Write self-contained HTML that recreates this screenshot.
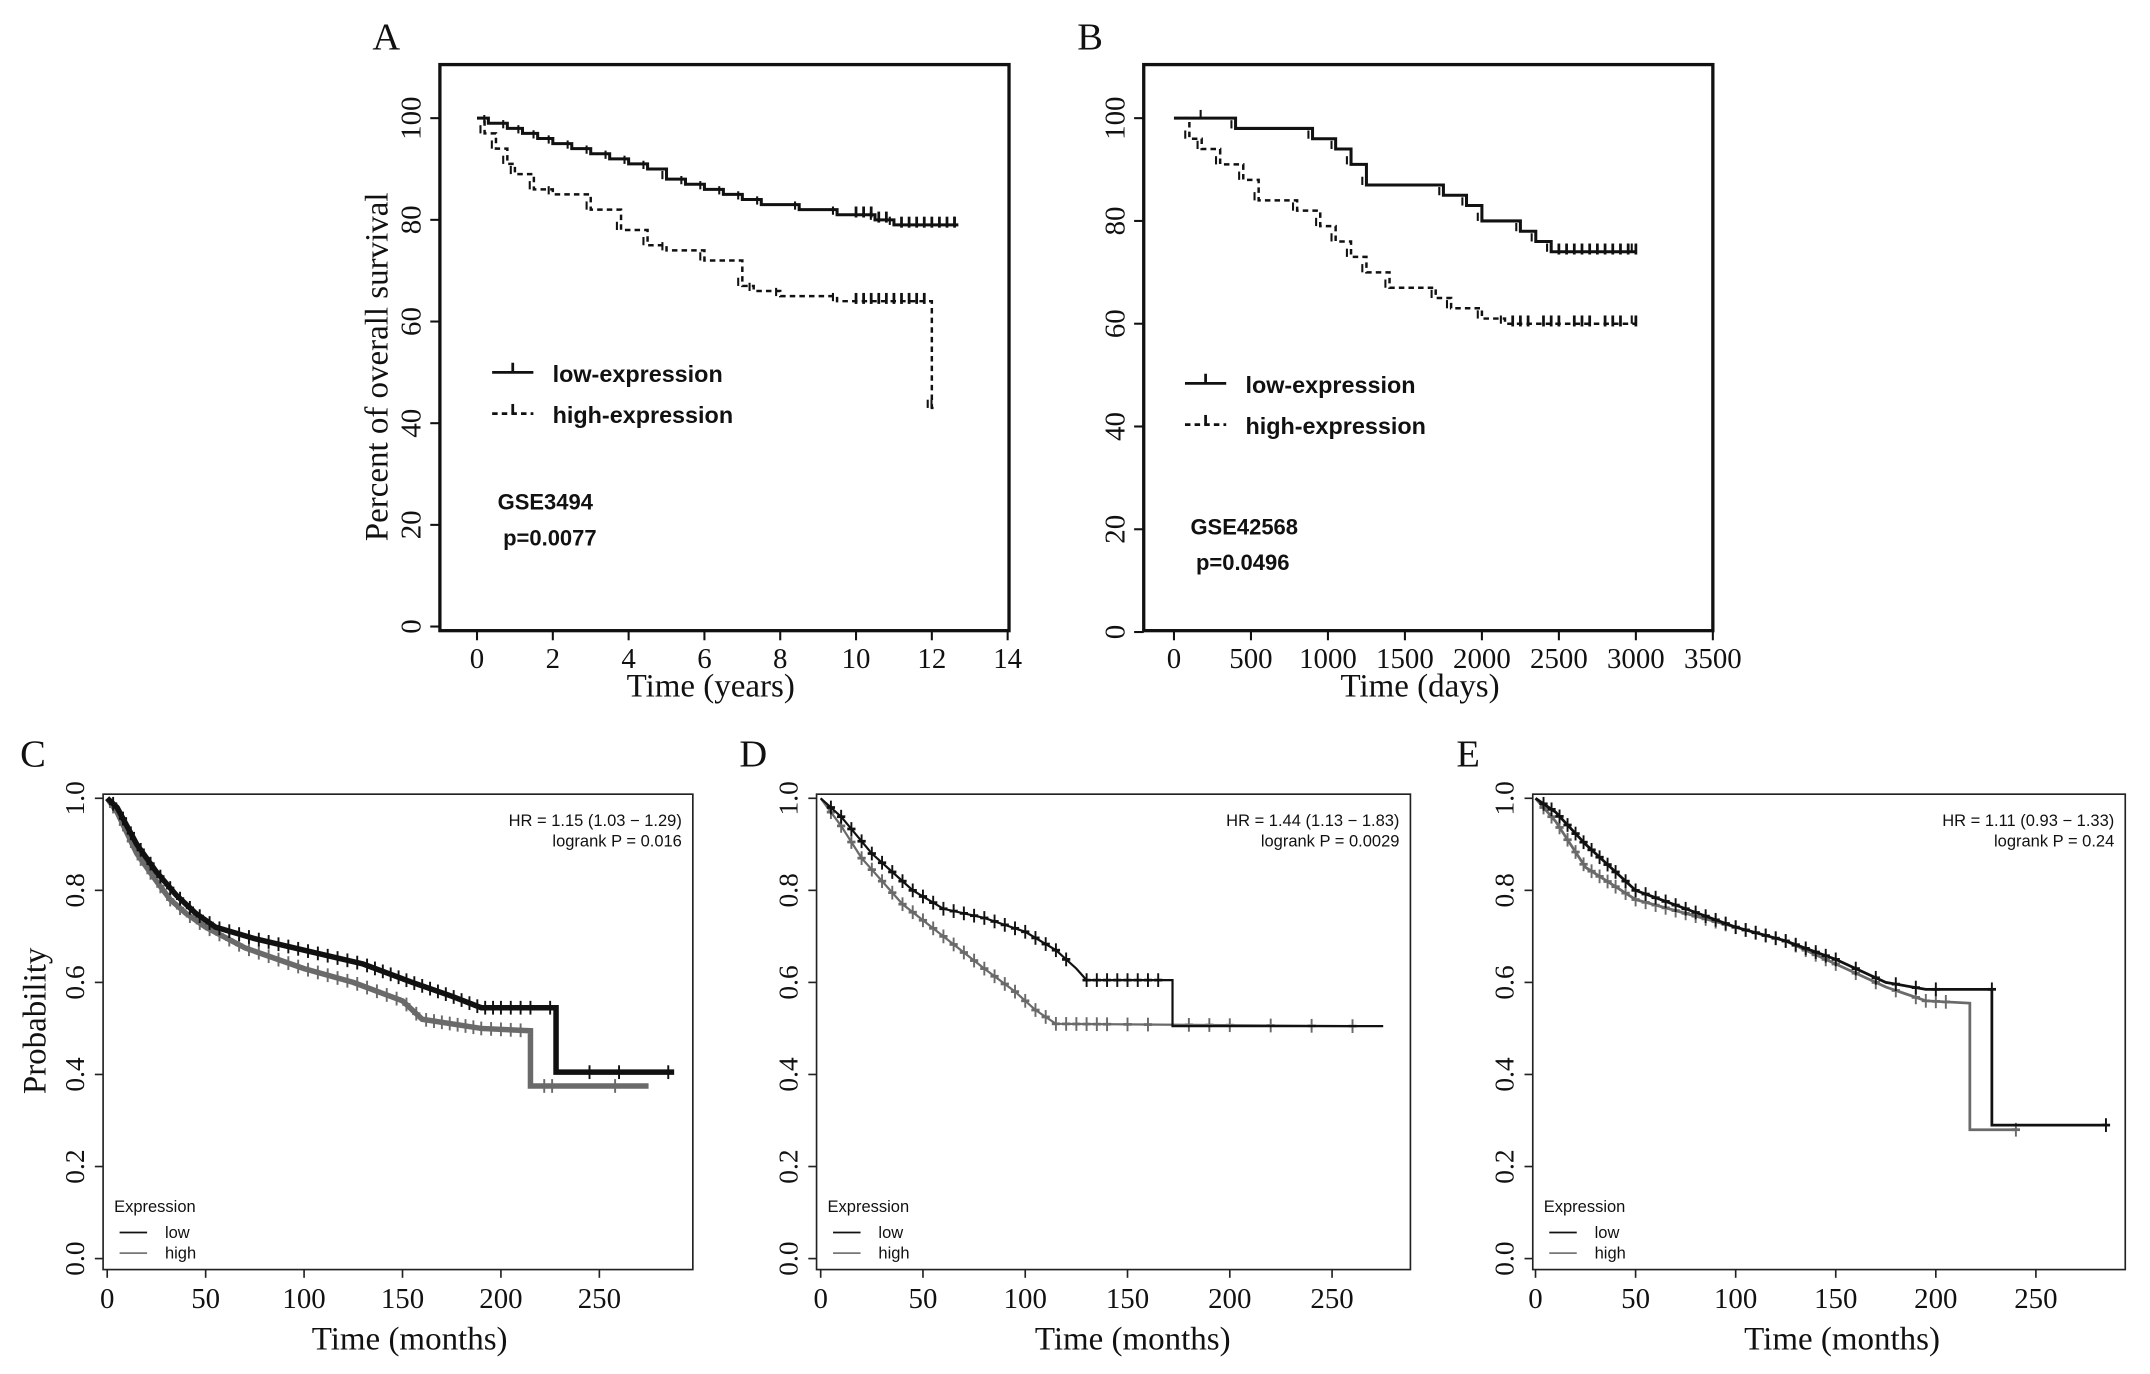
<!DOCTYPE html>
<html><head><meta charset="utf-8"><style>
html,body{margin:0;padding:0;background:#fff;}
svg{display:block;}
.serif{font-family:"Liberation Serif",serif;}
.sans{font-family:"Liberation Sans",sans-serif;}
</style></head><body>
<svg id="fig" width="2150" height="1374" viewBox="0 0 1564 1000" preserveAspectRatio="none" xmlns="http://www.w3.org/2000/svg"></svg>
<script>
// ---- Panel A data (years, percent) ----
const aLowT = [0,0.3,0.8,1.2,1.6,2,2.5,3,3.5,4,4.5,5,5.5,6,6.5,7,7.5,8.5,9.5,10.5,11,12.7];
const aLowS = [100,99,98,97,96,95,94,93,92,91,90,88,87,86,85,84,83,82,81,80,79,79];
const aHighT = [0,0.2,0.5,0.8,1,1.5,2,3,3.8,4.5,5,6,7,7.3,8,9.5,12,12.1];
const aHighS = [100,97,94,91,89,86,85,82,78,75,74,72,67,66,65,64,43,43];
const aXTicks = [0,2,4,6,8,10,12,14];
const aYTicks = [0,20,40,60,80,100];
// ---- Panel B data (days, percent) ----
const bLowT = [0,200,400,900,1050,1150,1250,1750,1900,2000,2250,2350,2450,3000];
const bLowS = [100,100,98,96,94,91,87,85,83,80,78,76,74,74];
const bHighT = [0,100,180,300,450,550,800,950,1050,1150,1250,1400,1700,1800,2000,2150,3000];
const bHighS = [100,96,94,91,88,84,82,79,76,73,70,67,65,63,61,60,60];
const bXTicks = [0,500,1000,1500,2000,2500,3000,3500];
const bYTicks = [0,20,40,60,80,100];
// ---- Panels C-E data (months, probability) ----
const kmXTicks = [0,50,100,150,200,250];
const kmYTicks = ["0.0","0.2","0.4","0.6","0.8","1.0"];
const cLowT = [0,5,15,25,35,45,55,75,100,130,155,175,190,228,228,288];
const cLowS = [1,0.98,0.9,0.84,0.79,0.75,0.72,0.695,0.67,0.64,0.6,0.57,0.545,0.545,0.405,0.405];
const cHighT = [0,5,15,25,32,40,50,70,100,125,150,160,190,215,215,275];
const cHighS = [1,0.97,0.88,0.82,0.78,0.75,0.72,0.675,0.63,0.6,0.56,0.52,0.5,0.495,0.375,0.375];
const cLowCens = [3,8,12,17,22,27,32,37,42,47,52,57,62,67,72,77,82,87,92,97,102,107,112,117,122,127,132,136,140,144,148,152,156,160,164,168,172,176,180,184,188,192,196,200,205,210,215,225,245,260,285];
const cHighCens = [3,8,12,17,22,27,32,37,42,47,52,57,62,67,72,77,82,87,92,97,102,107,112,117,122,127,132,137,142,147,152,157,162,166,170,174,178,182,186,190,195,200,205,210,222,226,258];
const dLowT = [0,10,25,45,60,80,100,115,125,130,172,172,275];
const dLowS = [1,0.96,0.88,0.8,0.76,0.74,0.71,0.67,0.63,0.605,0.605,0.505,0.505];
const dHighT = [0,10,20,40,60,80,95,105,115,260];
const dHighS = [1,0.94,0.87,0.77,0.7,0.63,0.58,0.54,0.51,0.505];
const dLowCens = [5,10,15,20,25,30,35,40,45,50,55,60,65,70,75,80,85,90,95,100,105,110,115,120,130,135,140,145,150,155,160,165];
const dHighCens = [5,10,15,20,25,30,35,40,45,50,55,60,65,70,75,80,85,90,95,100,105,110,115,120,125,130,135,140,150,160,180,190,200,220,240,260];
const eLowT = [0,10,25,50,75,100,125,150,175,195,228,228,285];
const eLowS = [1,0.97,0.9,0.8,0.76,0.72,0.69,0.65,0.6,0.585,0.585,0.29,0.29];
const eHighT = [0,10,25,50,75,100,125,150,175,195,217,217,240];
const eHighS = [1,0.95,0.85,0.78,0.75,0.72,0.69,0.64,0.59,0.56,0.555,0.28,0.28];
const eLowCens = [4,8,12,16,20,24,28,32,36,40,45,50,55,60,65,70,75,80,85,90,95,100,105,110,115,120,125,130,135,140,145,150,160,170,180,190,200,228,285];
const eHighCens = [4,8,12,16,20,24,28,32,36,40,45,50,55,60,65,70,75,80,85,90,95,100,105,110,115,120,125,130,135,140,145,150,160,170,180,190,195,200,205,240];

const NS="http://www.w3.org/2000/svg";
const svg=document.getElementById('fig');
function mk(tag,attrs,parent){const e=document.createElementNS(NS,tag);for(const k in attrs)e.setAttribute(k,attrs[k]);(parent||svg).appendChild(e);return e;}
function txt(s,x,y,size,cls,anchor,parent,extra){const t=mk('text',Object.assign({x:x,y:y,'font-size':size,'class':cls,'text-anchor':anchor||'start',fill:'#111'},extra||{}),parent);t.textContent=s;return t;}

function stepPath(T,S,sx,sy){let d='M'+sx(T[0])+','+sy(S[0]);for(let i=1;i<T.length;i++){d+=' H'+sx(T[i])+' V'+sy(S[i]);}return d;}
function linePath(T,S,sx,sy){return T.map((t,i)=>(i?'L':'M')+sx(t)+','+sy(S[i])).join(' ');}
function interp(T,S,t){for(let i=T.length-1;i>=0;i--){if(T[i]<=t)return S[i];}return S[0];}
function lin(T,S,t){for(let i=1;i<T.length;i++){if(t<=T[i]){if(T[i]===T[i-1])return S[i-1];const f=(t-T[i-1])/(T[i]-T[i-1]);return S[i-1]+f*(S[i]-S[i-1]);}}return S[S.length-1];}

// ---------- Panels A/B ----------
function panelAB(cfg){
  const g=mk('g',{});
  
  
  const sx=v=>cfg.x0+(v-cfg.xmin)*(cfg.x1-cfg.x0)/(cfg.xmax-cfg.xmin);
  const sy=v=>cfg.y0+(v)*(cfg.y1-cfg.y0)/100;
  const box=mk('rect',{x:cfg.bx0,y:cfg.by0,width:cfg.bx1-cfg.bx0,height:cfg.by1-cfg.by0,fill:'none',stroke:'#111','stroke-width':2.4},g);
  
  const ya=mk('g',{},g);
  mk('line',{x1:cfg.bx0,y1:sy(0),x2:cfg.bx0,y2:sy(100),stroke:'#111','stroke-width':1.5},ya);
  cfg.yt.forEach(v=>{mk('line',{x1:cfg.bx0-7,y1:sy(v),x2:cfg.bx0,y2:sy(v),stroke:'#111','stroke-width':1.5},ya);
    txt(String(v),cfg.bx0-14,sy(v),21,'serif','middle',ya,{transform:'rotate(-90 '+(cfg.bx0-14)+' '+sy(v)+')'});});
  const xa=mk('g',{},g);
  mk('line',{x1:sx(cfg.xt[0]),y1:cfg.by1,x2:sx(cfg.xt[cfg.xt.length-1]),y2:cfg.by1,stroke:'#111','stroke-width':1.5},xa);
  cfg.xt.forEach(v=>{mk('line',{x1:sx(v),y1:cfg.by1,x2:sx(v),y2:cfg.by1+7,stroke:'#111','stroke-width':1.5},xa);
    txt(String(v),sx(v),cfg.by1+27,21,'serif','middle',xa);});
  const xt=txt(cfg.xlabel,cfg.xlx,cfg.by1+48,24,'serif','middle',g);
  if(cfg.ylabel){const yl=txt(cfg.ylabel,272,257,24,'serif','middle',g,{transform:'rotate(-90 282 257)'});}
  const pl=txt(cfg.letter,cfg.lx,36,28,'serif','middle',g);
  const lo=mk('path',{d:stepPath(cfg.lowT,cfg.lowS,sx,sy),fill:'none',stroke:'#111','stroke-width':2.2},g);
  
  const hi=mk('path',{d:stepPath(cfg.highT,cfg.highS,sx,sy),fill:'none',stroke:'#111','stroke-width':1.8,'stroke-dasharray':'4,3'},g);
  
  [[cfg.lowT,cfg.lowS],[cfg.highT,cfg.highS]].forEach(([T,S])=>{T.forEach((t,i)=>{if(i>0){mk('line',{x1:sx(t)-3,y1:sy(S[i]),x2:sx(t)-3,y2:sy(S[i])-6,stroke:'#111','stroke-width':1.5},g);}});});
  cfg.tailLow.forEach(t=>{mk('line',{x1:sx(t),y1:sy(interp(cfg.lowT,cfg.lowS,t))+2,x2:sx(t),y2:sy(interp(cfg.lowT,cfg.lowS,t))-6,stroke:'#111','stroke-width':2},g);});
  cfg.tailHigh.forEach(t=>{mk('line',{x1:sx(t),y1:sy(interp(cfg.highT,cfg.highS,t))+2,x2:sx(t),y2:sy(interp(cfg.highT,cfg.highS,t))-6,stroke:'#111','stroke-width':2},g);});
  const lg=mk('g',{},g);
  mk('line',{x1:cfg.lgx,y1:cfg.lgy,x2:cfg.lgx+30,y2:cfg.lgy,stroke:'#111','stroke-width':2},lg);
  mk('line',{x1:cfg.lgx+15,y1:cfg.lgy,x2:cfg.lgx+15,y2:cfg.lgy-7,stroke:'#111','stroke-width':2},lg);
  txt('low-expression',cfg.lgx+44,cfg.lgy+7,17,'sans','start',lg,{'font-weight':'bold'});
  mk('line',{x1:cfg.lgx,y1:cfg.lgy+30,x2:cfg.lgx+30,y2:cfg.lgy+30,stroke:'#111','stroke-width':2,'stroke-dasharray':'4,3'},lg);
  mk('line',{x1:cfg.lgx+15,y1:cfg.lgy+30,x2:cfg.lgx+15,y2:cfg.lgy+23,stroke:'#111','stroke-width':2},lg);
  txt('high-expression',cfg.lgx+44,cfg.lgy+37,17,'sans','start',lg,{'font-weight':'bold'});
  const gs=txt(cfg.gse,cfg.gx,cfg.gy,16,'sans','start',g,{'font-weight':'bold'});
  const pv=txt(cfg.p,cfg.gx+4,cfg.gy+26,16,'sans','start',g,{'font-weight':'bold'});
}
panelAB({name:'panel-a',letter:'A',lx:281,bx0:320,bx1:734,by0:47,by1:459,x0:347,x1:733,xmin:0,xmax:14,y0:456,y1:86,
  xt:aXTicks,yt:aYTicks,xlabel:'Time (years)',xlx:517,ylabel:'Percent of overall survival',
  lowT:aLowT,lowS:aLowS,highT:aHighT,highS:aHighS,tailLow:[10,10.2,10.4,10.6,10.8,11.2,11.4,11.6,11.8,12,12.2,12.4,12.6],tailHigh:[10,10.2,10.4,10.6,10.8,11,11.2,11.4,11.6,11.8],
  lgx:358,lgy:271,gse:'GSE3494',p:'p=0.0077',gx:362,gy:371});
panelAB({name:'panel-b',letter:'B',lx:793,bx0:832,bx1:1246,by0:47,by1:459,x0:854,x1:1246,xmin:0,xmax:3500,y0:460,y1:86,
  xt:bXTicks,yt:bYTicks,xlabel:'Time (days)',xlx:1033,ylabel:null,
  lowT:bLowT,lowS:bLowS,highT:bHighT,highS:bHighS,tailLow:[2500,2550,2600,2650,2700,2750,2800,2850,2900,2950,3000],tailHigh:[2200,2250,2300,2400,2450,2500,2600,2650,2700,2800,2850,2900,3000],
  lgx:862,lgy:279,gse:'GSE42568',p:'p=0.0496',gx:866,gy:389});

// ---------- Panels C-E ----------
function panelKM(cfg){
  const g=mk('g',{});
  
  
  const sx=v=>cfg.x0+v*(cfg.x250-cfg.x0)/250;
  const sy=v=>916-v*335;
  const box=mk('rect',{x:cfg.bx0,y:578,width:cfg.bx1-cfg.bx0,height:346,fill:'none',stroke:'#222','stroke-width':1.2},g);
  
  const ya=mk('g',{},g);
  kmYTicks.forEach((s,i)=>{const v=i*0.2;mk('line',{x1:cfg.bx0-6,y1:sy(v),x2:cfg.bx0,y2:sy(v),stroke:'#222','stroke-width':1.2},ya);
    txt(s,cfg.bx0-14,sy(v),20,'serif','middle',ya,{transform:'rotate(-90 '+(cfg.bx0-14)+' '+sy(v)+')'});});
  const xa=mk('g',{},g);
  kmXTicks.forEach(v=>{mk('line',{x1:sx(v),y1:924,x2:sx(v),y2:930,stroke:'#222','stroke-width':1.2},xa);
    txt(String(v),sx(v),952,21,'serif','middle',xa);});
  const xt=txt('Time (months)',cfg.xlx,982,24,'serif','middle',g);
  const pl=txt(cfg.letter,cfg.lx,558,28,'serif','middle',g);
  const st=[['low-curve',cfg.lowT,cfg.lowS,'#111',cfg.lowC],['high-curve',cfg.highT,cfg.highS,'#6a6a6a',cfg.highC]];
  st.reverse().forEach(([nm,T,S,col,C])=>{
    const p=mk('path',{d:linePath(T,S,sx,sy),fill:'none',stroke:col,'stroke-width':cfg.w},g);
    
    C.forEach(t=>{const y=sy(lin(T,S,t));
      mk('line',{x1:sx(t),y1:y-5,x2:sx(t),y2:y+5,stroke:col,'stroke-width':1.4},g);
      mk('line',{x1:sx(t)-3,y1:y,x2:sx(t)+3,y2:y,stroke:col,'stroke-width':2},g);});
  });
  const hr=txt(cfg.hr,cfg.bx1-8,601,12,'sans','end',g);
  const lr=txt(cfg.lr,cfg.bx1-8,616,12,'sans','end',g);
  const lg=mk('g',{},g);
  txt('Expression',cfg.bx0+8,882,12,'sans','start',lg);
  mk('line',{x1:cfg.bx0+12,y1:897,x2:cfg.bx0+32,y2:897,stroke:'#111','stroke-width':1.3},lg);
  txt('low',cfg.bx0+45,901,12,'sans','start',lg);
  mk('line',{x1:cfg.bx0+12,y1:912,x2:cfg.bx0+32,y2:912,stroke:'#777','stroke-width':1.3},lg);
  txt('high',cfg.bx0+45,916,12,'sans','start',lg);
}
panelKM({name:'panel-c',letter:'C',lx:24,bx0:75,bx1:504,x0:78,x250:436,xlx:298,w:4,
  lowT:cLowT,lowS:cLowS,highT:cHighT,highS:cHighS,lowC:cLowCens,highC:cHighCens,
  hr:'HR = 1.15 (1.03 − 1.29)',lr:'logrank P = 0.016'});
const yl=txt('Probability',25,735,24,'serif','middle',svg,{transform:'rotate(-90 33 735)'});

panelKM({name:'panel-d',letter:'D',lx:548,bx0:594,bx1:1026,x0:597,x250:969,xlx:824,w:1.6,
  lowT:dLowT,lowS:dLowS,highT:dHighT,highS:dHighS,lowC:dLowCens,highC:dHighCens,
  hr:'HR = 1.44 (1.13 − 1.83)',lr:'logrank P = 0.0029'});
panelKM({name:'panel-e',letter:'E',lx:1068,bx0:1115,bx1:1546,x0:1117,x250:1481,xlx:1340,w:2,
  lowT:eLowT,lowS:eLowS,highT:eHighT,highS:eHighS,lowC:eLowCens,highC:eHighCens,
  hr:'HR = 1.11 (0.93 − 1.33)',lr:'logrank P = 0.24'});
</script>
</body></html>
